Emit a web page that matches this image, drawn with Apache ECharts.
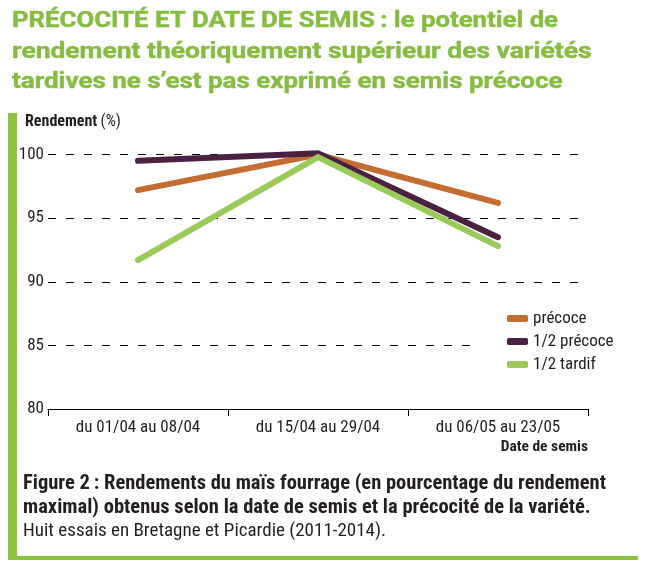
<!DOCTYPE html>
<html><head><meta charset="utf-8">
<script src="https://cdn.jsdelivr.net/npm/echarts@6/dist/echarts.min.js"></script>
<style>html,body{margin:0;padding:0;background:#fff}#c{width:655px;height:570px}</style>
</head><body><div id="c"></div>
<script>
const categories = ['du 01/04 au 08/04', 'du 15/04 au 29/04', 'du 06/05 au 23/05'];
const precoce = [97.2, 100, 96.2];
const demiPrecoce = [99.5, 100.1, 93.5];
const demiTardif = [91.7, 99.8, 92.8];
const seriesNames = ['précoce', '1/2 précoce', '1/2 tardif'];
const yTicks = [80, 85, 90, 95, 100];
const titleLines = [
  'PRÉCOCITÉ ET DATE DE SEMIS\u2009: le potentiel de',
  'rendement théoriquement supérieur des variétés',
  'tardives ne s\u2019est pas exprimé en semis précoce'
];

const FONT = '"Roboto Condensed", "Liberation Sans", Arial, sans-serif';
const TFONT = 'Roboto, "Liberation Sans", Arial, sans-serif';
const GREEN = '#86bc40';
const DARK = '#231f20';
const colors = ['#c46d33', '#4b2142', '#9bc95a'];

const chart = echarts.init(document.getElementById('c'), null, {renderer: 'canvas'});
const mk = (name, data, color) => ({
  name, type: 'line', data, clip: false, symbol: 'none', smooth: false,
  lineStyle: {color, width: 6, cap: 'round', join: 'miter'},
  itemStyle: {color}, z: 3
});
const titleScale = [1.17, 1.2, 1.18];
const titleY = [21, 52, 82];
chart.setOption({
  animation: false,
  grid: [{left: 48, right: 67, top: 154.5, bottom: 161}],
  xAxis: [{
    type: 'category', data: categories, boundaryGap: true,
    axisLine: {lineStyle: {color: '#000', width: 1.2}},
    axisTick: {show: true, length: 7, lineStyle: {color: '#000'}},
    axisLabel: {color: DARK, fontFamily: FONT, fontSize: 17, margin: 10}
  }],
  yAxis: [{
    type: 'value', min: yTicks[0], max: yTicks[yTicks.length - 1], interval: 5,
    axisLine: {show: false}, axisTick: {show: false},
    axisLabel: {color: DARK, fontFamily: FONT, fontSize: 17, margin: 4},
    splitLine: {show: true, lineStyle: {color: '#000', width: 1, type: [8, 10]}}
  }],
  legend: {
    orient: 'vertical', left: 470, top: 305,
    padding: [5, 10, 5, 37], backgroundColor: '#fff',
    itemWidth: 21, itemHeight: 7, itemGap: 6, icon: 'roundRect',
    textStyle: {color: DARK, fontFamily: FONT, fontSize: 17},
    data: seriesNames
  },
  series: [
    mk(seriesNames[0], precoce, colors[0]),
    mk(seriesNames[1], demiPrecoce, colors[1]),
    mk(seriesNames[2], demiTardif, colors[2])
  ],
  graphic: [
    {type: 'rect', shape: {x: 8, y: 113, width: 9, height: 447}, style: {fill: '#8bc53f'}},
    {type: 'rect', shape: {x: 8, y: 556, width: 630, height: 4}, style: {fill: '#8bc53f'}}
  ].concat(titleLines.map((t, i) => ({
    type: 'text', x: 12, y: titleY[i], scaleX: titleScale[i],
    style: {text: t, fill: GREEN, font: 'bold 22px ' + TFONT, verticalAlign: 'middle', align: 'left',
            stroke: GREEN, lineWidth: 0.4}
  }))).concat([
    {type: 'text', left: 25, top: 114, style: {
      text: '{b|Rendement} {r|(%)}',
      rich: {b: {fill: DARK, font: 'bold 16px ' + FONT}, r: {fill: DARK, font: '16px ' + FONT}}}},
    {type: 'text', right: 67, top: 439, style: {
      text: 'Date de semis', fill: DARK, font: 'bold 15.5px ' + FONT}},
    {type: 'text', left: 23, top: 473, style: {
      text: '{b|Figure 2\u2009: Rendements du maïs fourrage (en pourcentage du rendement}\n{b|maximal) obtenus selon la date de semis et la précocité de la variété.}\n{r|Huit essais en Bretagne et Picardie (2011-2014).}',
      rich: {b: {fill: DARK, font: 'bold 20.5px ' + FONT, lineHeight: 24}, r: {fill: DARK, font: '19px ' + FONT, lineHeight: 24}}}}
  ])
});
</script></body></html>
